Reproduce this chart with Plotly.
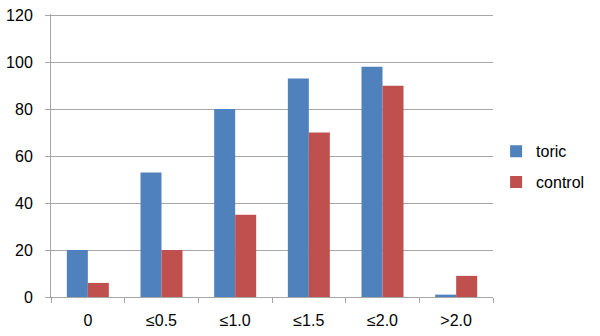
import plotly.graph_objects as go

categories = ["0", "≤0.5", "≤1.0", "≤1.5", "≤2.0", ">2.0"]
toric = [20, 53, 80, 93, 98, 1]
control = [6, 20, 35, 70, 90, 9]
y_ticks = [0, 20, 40, 60, 80, 100, 120]

fig = go.Figure()
fig.add_trace(go.Bar(name="toric", x=categories, y=toric, marker_color="#4f81bd",
                     marker_line_width=0, legendgroup="a"))
fig.add_trace(go.Bar(name="control", x=categories, y=control, marker_color="#c0504d",
                     marker_line_width=0, legendgroup="b"))

fig.update_layout(
    width=600, height=336,
    margin=dict(l=51, r=107, t=14, b=39, autoexpand=False),
    paper_bgcolor="white", plot_bgcolor="white",
    barmode="group", bargap=0.43, bargroupgap=0,
    font=dict(family="Liberation Sans, Arial", size=16, color="#000000"),
    legend=dict(x=1.007, y=0.46, xanchor="left", yanchor="middle",
                traceorder="grouped", tracegroupgap=7, itemwidth=30,
                font=dict(size=16)),
    xaxis=dict(type="category", showline=True, linecolor="#a6a6a6", linewidth=1,
               ticks="outside", tickson="boundaries", ticklen=5, tickcolor="#a6a6a6",
               showgrid=False, zeroline=False, ticklabelstandoff=9),
    yaxis=dict(range=[0, 120.5], tickvals=y_ticks, showline=True, linecolor="#a6a6a6",
               linewidth=1, ticks="outside", ticklen=5, tickcolor="#a6a6a6",
               showgrid=True, gridcolor="#a6a6a6", gridwidth=1, zeroline=False,
               ticklabelstandoff=9, ticklabeloverflow="allow"),
)

fig.write_html("out.html", config={"displayModeBar": False},
               post_script="document.body.style.margin='0';document.body.style.padding='0';")
